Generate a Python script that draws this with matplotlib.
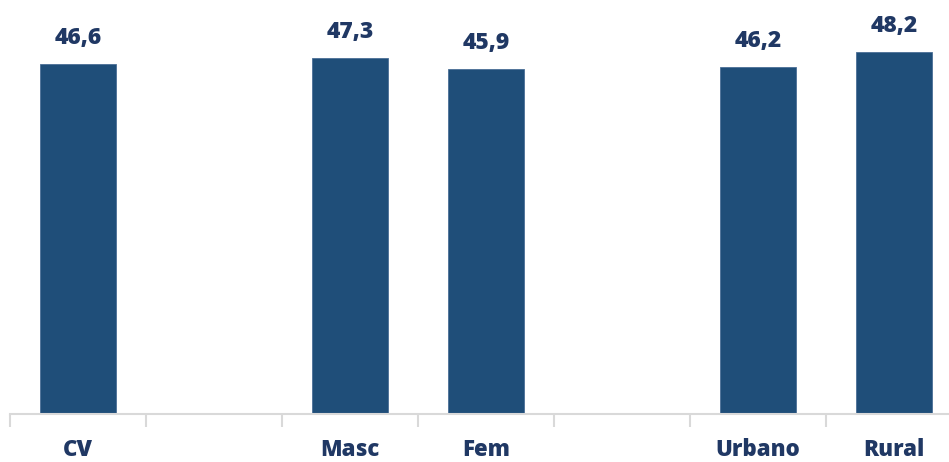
import numpy as np
import matplotlib.pyplot as plt

# categorias (com espaços vazios entre grupos)
categorias = ["CV", "", "Masc", "Fem", "", "Urbano", "Rural"]
valores = [46.6, None, 47.3, 45.9, None, 46.2, 48.2]

cor_barra = "#1F4E79"
cor_texto = "#203864"

plt.rcParams["font.family"] = ["Open Sans", "DejaVu Sans"]

fig = plt.figure(figsize=(9.49, 4.62), dpi=100)
ax = fig.add_axes([10 / 949, 48 / 462, 939 / 949, 414 / 462])

x = np.arange(len(categorias))
for xi, v in zip(x, valores):
    if v is None:
        continue
    ax.bar(xi, v, width=0.56, color=cor_barra, edgecolor="#4a6f96", linewidth=0.6)
    ax.text(xi, v + 1.85, f"{v:.1f}".replace(".", ","), ha="center", va="bottom",
            fontsize=16.5, fontweight=800, color=cor_texto)

ax.set_xlim(-0.5, -0.5 + 939 / 136)
ax.set_ylim(0, 414 / 7.52)

ax.set_xticks(x)
ax.set_xticklabels(categorias, fontsize=16, fontweight=800, color=cor_texto)
ax.tick_params(axis="x", which="major", length=0, pad=17)
ax.set_xticks(np.arange(-0.5, 6.5, 1.0), minor=True)
ax.tick_params(axis="x", which="minor", length=9, width=1.5, color="#d9d9d9")

ax.set_yticks([])
for lado in ["top", "right", "left"]:
    ax.spines[lado].set_visible(False)
ax.spines["bottom"].set_color("#d9d9d9")
ax.spines["bottom"].set_linewidth(1.5)

fig.savefig("out.png", dpi=100)
